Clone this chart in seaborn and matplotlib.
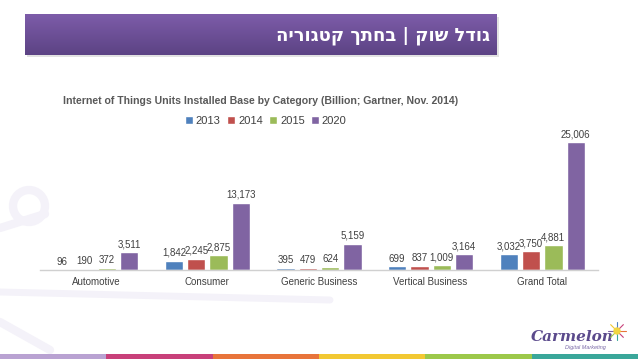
import numpy as np
import pandas as pd
import matplotlib
matplotlib.use("Agg")
import matplotlib.pyplot as plt
import seaborn as sns
from matplotlib.patches import Rectangle, Circle

categories = ["Automotive", "Consumer", "Generic Business", "Vertical Business", "Grand Total"]
years = ["2013", "2014", "2015", "2020"]
v2013 = [96, 1842, 395, 699, 3032]
v2014 = [190, 2245, 479, 837, 3750]
v2015 = [372, 2875, 624, 1009, 4881]
v2020 = [3511, 13173, 5159, 3164, 25006]
colors = ["#4f81bd", "#c0504d", "#9bbb59", "#8064a2"]
chart_title = "Internet of Things Units Installed Base by Category (Billion; Gartner, Nov. 2014)"
slide_title = "גודל שוק | בחתך קטגוריה"

rows = []
for y, vals in zip(years, [v2013, v2014, v2015, v2020]):
    for c, v in zip(categories, vals):
        rows.append({"Category": c, "Year": y, "Value": v})
df = pd.DataFrame(rows)

sns.set_style("white")
plt.rcParams["font.family"] = ["Liberation Sans", "DejaVu Sans"]

W, H = 638, 359
fig = plt.figure(figsize=(W / 100, H / 100), dpi=100)
fig.patch.set_facecolor("white")

# background overlay axes in pixel coords
bg = fig.add_axes([0, 0, 1, 1], zorder=0)
bg.set_xlim(0, W)
bg.set_ylim(H, 0)
bg.axis("off")

# faint watermark shapes
wm = "#f4f2f9"
bg.add_patch(Circle((29, 206), 16, fill=False, lw=6, ec=wm, zorder=0))
bg.plot([0, 45], [228, 214], color=wm, lw=6, solid_capstyle="round", zorder=0)
bg.plot([0, 330], [292, 300], color=wm, lw=5, zorder=0)
bg.plot([0, 50], [322, 350], color=wm, lw=6, zorder=0)

# banner with gradient
grad = np.linspace(0, 1, 64).reshape(-1, 1)
top = np.array([0x7d, 0x5c, 0xa9]) / 255
bot = np.array([0x5c, 0x43, 0x84]) / 255
img = top[None, None, :] * (1 - grad[:, :, None]) + bot[None, None, :] * grad[:, :, None]
bg.add_patch(Rectangle((27, 17), 472, 40, color="#cfcfcf", alpha=0.6, lw=0, zorder=1))
bg.imshow(img, extent=(25, 497, 55, 14), aspect="auto", zorder=2)
bg.text(490, 36, slide_title[::-1], color="white", fontsize=13, fontweight="bold",
        ha="right", va="center", family=["DejaVu Sans"], zorder=3)

# bottom color stripe
stripe = ["#b9a2d2", "#c8407a", "#e8743b", "#f2c832", "#9cc84a", "#3aa79a"]
for i, c in enumerate(stripe):
    bg.add_patch(Rectangle((i * W / 6, 354), W / 6, 5, color=c, lw=0, zorder=1))

# logo
bg.text(572, 337, "Carmelon", color="#5b4a8c", fontsize=11, fontweight="bold",
        style="italic", ha="center", va="center", family=["DejaVu Serif"], zorder=3)
bg.text(585, 348, "Digital Marketing", color="#7b6aa8", fontsize=4, style="italic",
        ha="center", va="center", zorder=3)
for ang, c in zip(np.linspace(0, 2 * np.pi, 8, endpoint=False),
                  ["#e8743b", "#c8407a", "#3aa79a", "#9cc84a", "#8064a2", "#f2c832", "#4f81bd", "#c8407a"]):
    bg.plot([617, 617 + 9 * np.cos(ang)], [331, 331 + 9 * np.sin(ang)], color=c, lw=0.8, zorder=3)
bg.add_patch(Circle((617, 331), 3, color="#f2d640", zorder=4))

# chart title
fig.text(261 / W, 1 - 101 / H, chart_title, ha="center", va="center", fontsize=7.6,
         fontweight="bold", color="#595959")

# main chart
ax = fig.add_axes([40 / W, (H - 270) / H, (598 - 40) / W, (270 - 142) / H], zorder=5)
ax.patch.set_alpha(0)
sns.barplot(data=df, x="Category", y="Value", hue="Year", palette=colors,
            width=0.8, gap=0.18, ax=ax, saturation=1, legend=True)
ax.set_ylim(0, 25006)
ax.set_xlim(-0.5, 4.5)
for cont in ax.containers:
    ax.bar_label(cont, labels=[f"{int(v):,}" for v in cont.datavalues], padding=2,
                 fontsize=7, color="#404040", clip_on=False)
for s in ["top", "left", "right"]:
    ax.spines[s].set_visible(False)
ax.spines["bottom"].set_color("#d0d0d0")
ax.spines["bottom"].set_linewidth(1)
ax.set_yticks([])
ax.set_xlabel("")
ax.set_ylabel("")
ax.tick_params(axis="x", length=0, labelsize=7, labelcolor="#404040", pad=5)

handles, labels = ax.get_legend_handles_labels()
ax.legend_.remove()
fig.legend(handles, labels, loc="center", bbox_to_anchor=(266 / W, 1 - 121 / H), ncol=4,
           frameon=False, fontsize=8, handlelength=0.7, handleheight=0.7,
           handletextpad=0.25, columnspacing=0.6, labelcolor="#404040")

fig.savefig("out.png", dpi=100)
